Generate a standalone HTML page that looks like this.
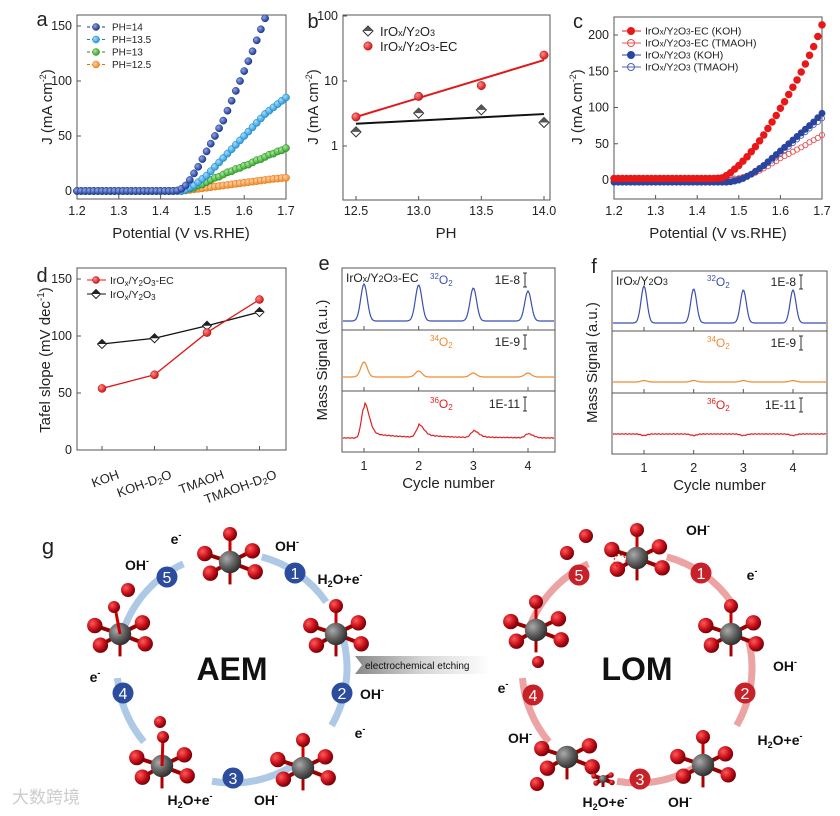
<!DOCTYPE html>
<html><head><meta charset="utf-8"><style>
body{margin:0;background:#fff}
svg{display:block;font-family:"Liberation Sans",Arial,sans-serif}
</style></head><body>
<svg id="fig" width="840" height="816" viewBox="0 0 840 816" xmlns="http://www.w3.org/2000/svg">
<defs>
<radialGradient id="gRed" cx="35%" cy="35%" r="65%"><stop offset="0" stop-color="#ff5a5a"/><stop offset="0.6" stop-color="#c8101a"/><stop offset="1" stop-color="#7a0008"/></radialGradient>
<radialGradient id="gGray" cx="35%" cy="35%" r="65%"><stop offset="0" stop-color="#aaa"/><stop offset="0.6" stop-color="#5e5e5e"/><stop offset="1" stop-color="#333"/></radialGradient>
<radialGradient id="gB" cx="35%" cy="35%" r="65%"><stop offset="0" stop-color="#8fa6e6"/><stop offset="1" stop-color="#1f3a96"/></radialGradient>
<radialGradient id="gR2" cx="35%" cy="35%" r="65%"><stop offset="0" stop-color="#ff8a8a"/><stop offset="1" stop-color="#d11a1a"/></radialGradient>
<radialGradient id="gS" cx="35%" cy="35%" r="65%"><stop offset="0" stop-color="#9fdcff"/><stop offset="1" stop-color="#2f9ad8"/></radialGradient>
<radialGradient id="gG" cx="35%" cy="35%" r="65%"><stop offset="0" stop-color="#a6e89a"/><stop offset="1" stop-color="#35a52a"/></radialGradient>
<radialGradient id="gO" cx="35%" cy="35%" r="65%"><stop offset="0" stop-color="#ffd0a0"/><stop offset="1" stop-color="#f08a2a"/></radialGradient>
<linearGradient id="etch" x1="0" x2="1"><stop offset="0" stop-color="#888"/><stop offset="0.5" stop-color="#d6d6d6"/><stop offset="1" stop-color="#fff"/></linearGradient>
</defs>
<g id="root"></g>
</svg>
<script>
// ---------- DATA ----------
const aPotentials=[1.20,1.21,1.22,1.23,1.24,1.25,1.26,1.27,1.28,1.29,1.30,1.31,1.32,1.33,1.34,1.35,1.36,1.37,1.38,1.39,1.40,1.41,1.42,1.43,1.44,1.45,1.46,1.47,1.48,1.49,1.50,1.51,1.52,1.53,1.54,1.55,1.56,1.57,1.58,1.59,1.60,1.61,1.62,1.63,1.64,1.65,1.66,1.67,1.68,1.69,1.70];
const aPH14=[0,0,0,0,0,0,0,0,0,0,0,0,0,0,0,0,0,0,0,0,0,0,0,0,0.5,2,5,10,16,22,29,36,43,50,57,64,73,82,91,100,109,118,127,137,147,157];
const aPH135=[0,0,0,0,0,0,0,0,0,0,0,0,0,0,0,0,0,0,0,0,0,0,0,0,0,0,1,3,5,8,11,14,18,22,26,30,34,38,42,46,50,54,58,62,66,70,73,76,79,82,85];
const aPH13=[0,0,0,0,0,0,0,0,0,0,0,0,0,0,0,0,0,0,0,0,0,0,0,0,0,0,1,2,3,5,6,8,10,12,13,15,17,18,20,21,23,24,26,28,29,31,33,34,36,37,39];
const aPH125=[0,0,0,0,0,0,0,0,0,0,0,0,0,0,0,0,0,0,0,0,0,0,0,0,0,0,0.5,1,1.5,2,2.5,3,3.5,4,4.5,5,5.5,6,6.5,7,7.5,8,8.5,9,9.5,10,10.5,11,11.3,11.7,12];
const aXTicks=[1.2,1.3,1.4,1.5,1.6,1.7];
const aYTicks=[0,50,100,150];
const bPH=[12.5,13.0,13.5,14.0];
const bPlain=[1.65,3.2,3.6,2.3];
const bEC=[2.8,5.8,8.5,25];
const bPlainFit=[2.2,3.1];
const bECFit=[2.8,21];
const bXTicks=[12.5,13.0,13.5,14.0];
const bYTicks=[1,10,100];
const cECKOH=[2,2,2,2,2,2,2,2,2,2,2,2,2,2,2,2,2,2,2,2,2,2,2,2,2,2.5,3,6,10,15,20,26,32,39,46,54,62,71,80,89,99,108,118,128,138,149,160,172,184,198,214];
const cECTMAOH=[2,2,2,2,2,2,2,2,2,2,2,2,2,2,2,2,2,2,2,2,2,2,2,2,2,2,2,2,2,2,2.5,4,6,8,10,13,16,19,23,26,30,33,36,39,42,45,48,52,55,58,62];
const cKOH=[-3,-3,-3,-3,-3,-3,-3,-3,-3,-3,-3,-3,-3,-3,-3,-3,-3,-3,-3,-3,-3,-3,-3,-3,-3,-3,-3,-3,-2.5,-1.5,0,2,5,8,12,16,20,25,30,35,40,45,50,55,60,65,70,75,80,86,92];
const cTMAOH=[0,0,0,0,0,0,0,0,0,0,0,0,0,0,0,0,0,0,0,0,0,0,0,0,0,0,0,0,0,0.5,1.5,3,5,8,11,15,19,23,27,31,36,41,46,51,56,61,66,71,76,80,85];
const cYTicks=[0,50,100,150,200];
const dCats=["KOH","KOH-D2O","TMAOH","TMAOH-D2O"];
const dEC=[54,66,103,132];
const dPlain=[93,98,109,121];
const dYTicks=[0,50,100,150];
const cycles=[1,2,3,4];
const e32Peaks=[37,36,33,30];
const e34Peaks=[15,6,4,4];
const e36Peaks=[30,10,6,4]; const e36Base=[6,3,1,0];
const f32Peaks=[37,34,33,33];
const f34Peaks=[1.5,1.5,1.5,1.5];
const f36Peaks=[-1.5,-1.5,-1.5,-1.5];
const xTicksCycle=[1,2,3,4];

// ---------- helpers ----------
const NS="http://www.w3.org/2000/svg";
const root=document.getElementById('root');
function mk(tag,attrs,parent,txt){const e=document.createElementNS(NS,tag);for(const k in attrs)e.setAttribute(k,attrs[k]);if(txt!==undefined)e.textContent=txt;(parent||root).appendChild(e);return e;}
function lin(d0,d1,r0,r1){return v=>r0+(v-d0)*(r1-r0)/(d1-d0);}
function grp(name){const g=mk('g',{});return g;}
function txt(p,x,y,s,o){o=o||{};const t=mk('text',{x:x,y:y,'font-size':o.fs||12,'text-anchor':o.a||'middle',fill:o.c||'#222','font-weight':o.fw||'normal'},p);if(o.rot)t.setAttribute('transform','rotate('+o.rot+' '+x+' '+y+')');t.innerHTML=s;return t;}
function box(p,x0,y0,x1,y1){mk('rect',{x:x0,y:y0,width:x1-x0,height:y1-y0,fill:'none',stroke:'#555','stroke-width':1},p);}
function ytitle(p,x,y,s,fs){txt(p,x,y,s,{fs:fs||15,rot:-90});}
function circleMark(p,x,y,grad,stroke,r){mk('circle',{cx:x,cy:y,r:r||3.3,fill:'url(#'+grad+')',stroke:stroke,'stroke-width':0.5},p);}

// ---------- panel a ----------
(function(){
 const g=grp('panel-a');
 const X=lin(1.2,1.7,77,286),Y=lin(0,150,191,26);
 box(g,77,15,286,199);
 txt(g,42,26,'a',{fs:20});
 aXTicks.forEach(v=>{mk('line',{x1:X(v),x2:X(v),y1:199,y2:195,stroke:'#555'},g);txt(g,X(v),215,v.toFixed(1),{fs:12.5});});
 aYTicks.forEach(v=>{mk('line',{x1:77,x2:81,y1:Y(v),y2:Y(v),stroke:'#555'},g);txt(g,72,Y(v)+4,v,{fs:12.5,a:'end'});});
 txt(g,181,238,'Potential (V vs.RHE)',{fs:15});
 ytitle(g,52,107,'J (mA cm<tspan font-size="9" dy="-6">-2</tspan><tspan dy="6">)</tspan>');
 const series=[[aPH125,'gO','#e07010','PH=12.5'],[aPH13,'gG','#2a8a20','PH=13'],[aPH135,'gS','#1c80c0','PH=13.5'],[aPH14,'gB','#1f3590','PH=14']];
 series.forEach(s=>{const sg=grp('series-'+s[3].toLowerCase().replace('=','-').replace('.','-'));g.appendChild(sg);
  s[0].forEach((v,i)=>{const y=Y(v);if(y<17)return;circleMark(sg,X(aPotentials[i]),y,s[1],s[2],3.6);});});
 const leg=[['PH=14','gB','#1f3590'],['PH=13.5','gS','#1c80c0'],['PH=13','gG','#2a8a20'],['PH=12.5','gO','#e07010']];
 leg.forEach((l,i)=>{const y=27+i*12.5;const lg=grp('legend-entry');g.appendChild(lg);
  mk('line',{x1:87,x2:106,y1:y,y2:y,stroke:l[2],'stroke-dasharray':'3 2'},lg);circleMark(lg,96,y,l[1],l[2],3.5);txt(lg,112,y+3.5,l[0],{fs:10,a:'start'});});
})();

// ---------- panel b ----------
(function(){
 const g=grp('panel-b');
 const X=lin(12.5,14.0,356,544);
 const Y=v=>146-65*Math.log10(v);
 box(g,343,15,550,200);
 txt(g,313,28,'b',{fs:20});
 bXTicks.forEach(v=>{mk('line',{x1:X(v),x2:X(v),y1:200,y2:196,stroke:'#555'},g);txt(g,X(v),215,v.toFixed(1),{fs:12.5});});
 bYTicks.forEach(v=>{mk('line',{x1:343,x2:347,y1:Y(v),y2:Y(v),stroke:'#555'},g);txt(g,338,Y(v)+4,v,{fs:12.5,a:'end'});});
 txt(g,446,238,'PH',{fs:15});
 ytitle(g,318,107,'J (mA cm<tspan font-size="9" dy="-6">-2</tspan><tspan dy="6">)</tspan>');
 mk('line',{x1:X(12.5),x2:X(14),y1:Y(bPlainFit[0]),y2:Y(bPlainFit[1]),stroke:'#111','stroke-width':2},g);
 mk('line',{x1:X(12.5),x2:X(14),y1:Y(bECFit[0]),y2:Y(bECFit[1]),stroke:'#e01818','stroke-width':2},g);
 function diamond(p,x,y){mk('path',{d:`M${x} ${y-5}L${x+5} ${y}L${x} ${y+5}L${x-5} ${y}Z`,fill:'#fff',stroke:'#333'},p);mk('path',{d:`M${x-5} ${y}L${x} ${y-5}L${x+5} ${y}Z`,fill:'#555'},p);}
 bPH.forEach((p,i)=>{diamond(g,X(p),Y(bPlain[i]));circleMark(g,X(p),Y(bEC[i]),'gR2','#b00',4.2);});
 const l1=grp('legend-entry');g.appendChild(l1);diamond(l1,368,31);txt(l1,380,36,'IrO<tspan font-size="9">x</tspan>/Y<tspan font-size="9">2</tspan>O<tspan font-size="9">3</tspan>',{fs:13,a:'start'});
 const l2=grp('legend-entry');g.appendChild(l2);circleMark(l2,368,46,'gR2','#b00',4.2);txt(l2,380,51,'IrO<tspan font-size="9">x</tspan>/Y<tspan font-size="9">2</tspan>O<tspan font-size="9">3</tspan>-EC',{fs:13,a:'start'});
})();

// ---------- panel c ----------
(function(){
 const g=grp('panel-c');
 const X=lin(1.2,1.7,614,822),Y=lin(0,200,180,35);
 box(g,614,17,822,199);
 txt(g,578,28,'c',{fs:20});
 aXTicks.forEach(v=>{mk('line',{x1:X(v),x2:X(v),y1:199,y2:195,stroke:'#555'},g);txt(g,X(v),215,v.toFixed(1),{fs:12.5});});
 cYTicks.forEach(v=>{mk('line',{x1:614,x2:618,y1:Y(v),y2:Y(v),stroke:'#555'},g);txt(g,609,Y(v)+4,v,{fs:12.5,a:'end'});});
 txt(g,718,238,'Potential (V vs.RHE)',{fs:15});
 ytitle(g,582,107,'J (mA cm<tspan font-size="9" dy="-6">-2</tspan><tspan dy="6">)</tspan>');
 const drawS=(arr,fill,stroke,r,name)=>{const sg=grp(name);g.appendChild(sg);
  arr.forEach((v,i)=>{const x=X(aPotentials[i]),y=Y(v);mk('circle',{cx:x,cy:y,r:r,fill:fill,stroke:stroke,'stroke-width':0.9},sg);});};
 drawS(cTMAOH,'none','#5060b8',2.6,'series-plain-tmaoh');
 drawS(cECTMAOH,'none','#e85050',2.6,'series-ec-tmaoh');
 drawS(cKOH,'#2a45a0','#2a45a0',3,'series-plain-koh');
 drawS(cECKOH,'#e81818','#e81818',3.3,'series-ec-koh');
 const leg=[['IrO<tspan font-size="8">x</tspan>/Y<tspan font-size="8">2</tspan>O<tspan font-size="8">3</tspan>-EC (KOH)','#e81818','#e81818'],
  ['IrO<tspan font-size="8">x</tspan>/Y<tspan font-size="8">2</tspan>O<tspan font-size="8">3</tspan>-EC (TMAOH)','none','#e85050'],
  ['IrO<tspan font-size="8">x</tspan>/Y<tspan font-size="8">2</tspan>O<tspan font-size="8">3</tspan>      (KOH)','#2a45a0','#2a45a0'],
  ['IrO<tspan font-size="8">x</tspan>/Y<tspan font-size="8">2</tspan>O<tspan font-size="8">3</tspan>      (TMAOH)','none','#5060b8']];
 leg.forEach((l,i)=>{const y=31+i*12;const lg=grp('legend-entry');g.appendChild(lg);
  mk('line',{x1:622,x2:641,y1:y,y2:y,stroke:l[2]},lg);mk('circle',{cx:631,cy:y,r:3.5,fill:l[1],stroke:l[2]},lg);txt(lg,645,y+3.5,l[0],{fs:10.5,a:'start'});});
})();

// ---------- panel d ----------
(function(){
 const g=grp('panel-d');
 const X=i=>102+i*52.5,Y=lin(0,150,450,279);
 box(g,77,268,286,450);
 txt(g,42,282,'d',{fs:20});
 dYTicks.forEach(v=>{mk('line',{x1:77,x2:81,y1:Y(v),y2:Y(v),stroke:'#555'},g);txt(g,72,Y(v)+4,v,{fs:12.5,a:'end'});});
 dCats.forEach((c,i)=>{mk('line',{x1:X(i),x2:X(i),y1:450,y2:446,stroke:'#555'},g);
  txt(g,X(i)+18,478,c.replace('D2O','D<tspan font-size="9" dy="2">2</tspan><tspan dy="-2">O</tspan>'),{fs:13,a:'end',rot:-20});});
 ytitle(g,50,360,'Tafel slope (mV dec<tspan font-size="10" dy="-6">-1</tspan><tspan dy="6">)</tspan>');
 const pts=a=>a.map((v,i)=>X(i)+','+Y(v)).join(' ');
 mk('polyline',{points:pts(dPlain),fill:'none',stroke:'#111','stroke-width':1.3},g);
 mk('polyline',{points:pts(dEC),fill:'none',stroke:'#e01818','stroke-width':1.3},g);
 function dia(p,x,y){mk('path',{d:`M${x} ${y-4.5}L${x+4.5} ${y}L${x} ${y+4.5}L${x-4.5} ${y}Z`,fill:'#fff',stroke:'#222'},p);mk('path',{d:`M${x-4.5} ${y}L${x} ${y-4.5}L${x+4.5} ${y}Z`,fill:'#222'},p);}
 dPlain.forEach((v,i)=>dia(g,X(i),Y(v)));
 dEC.forEach((v,i)=>circleMark(g,X(i),Y(v),'gR2','#b00',4));
 const l1=grp('legend-entry');g.appendChild(l1);mk('line',{x1:87,x2:106,y1:280,y2:280,stroke:'#e01818'},l1);circleMark(l1,96,280,'gR2','#b00',3.5);
 txt(l1,110,284,'IrO<tspan font-size="8" dy="2">x</tspan><tspan dy="-2">/Y</tspan><tspan font-size="8" dy="2">2</tspan><tspan dy="-2">O</tspan><tspan font-size="8" dy="2">3</tspan><tspan dy="-2">-EC</tspan>',{fs:10.5,a:'start'});
 const l2=grp('legend-entry');g.appendChild(l2);mk('line',{x1:87,x2:106,y1:294,y2:294,stroke:'#111'},l2);dia(l2,96,294);
 txt(l2,110,298,'IrO<tspan font-size="8" dy="2">x</tspan><tspan dy="-2">/Y</tspan><tspan font-size="8" dy="2">2</tspan><tspan dy="-2">O</tspan><tspan font-size="8" dy="2">3</tspan>',{fs:10.5,a:'start'});
})();

// ---------- panels e,f ----------
function massPanel(name,letter,x0,x1,y0,d1,d2,y1,X,sets,label){
 const g=grp(name);
 box(g,x0,y0,x1,y1);
 mk('line',{x1:x0,x2:x1,y1:d1,y2:d1,stroke:'#555'},g);mk('line',{x1:x0,x2:x1,y1:d2,y2:d2,stroke:'#555'},g);
 txt(g,x0-18,y0+2,letter,{fs:20});
 xTicksCycle.forEach(c=>{[d1,d2,y1].forEach(yy=>mk('line',{x1:X(c),x2:X(c),y1:yy,y2:yy-4,stroke:'#555'},g));txt(g,X(c),y1+18,c,{fs:12.5});});
 txt(g,(x0+x1)/2,y1+36,'Cycle number',{fs:15});
 ytitle(g,x0-15,(y0+y1)/2,'Mass Signal (a.u.)',15);
 txt(g,x0+4,y0+14,label,{fs:12,a:'start'});
 sets.forEach(s=>{
  const sg=grp(s.name);g.appendChild(sg);
  let d='';
  for(let x=x0+1;x<=x1-1;x+=1){
   const c=(x-X(0))/(X(1)-X(0));
   let v=0;
   cycles.forEach((cy,i)=>{const dx=c-cy;
    const w=s.tail?(dx>0?0.09:0.05):0.06;
    v+=s.peaks[i]*Math.exp(-dx*dx/(2*w*w));
    if(s.base&&dx>0)v+=s.base[i]*Math.exp(-dx/0.5);});
   if(s.noise)v+=Math.sin(x*1.7)*0.35;
   d+=(d?'L':'M')+x+' '+(s.y0-v).toFixed(1);
  }
  mk('path',{d:d,fill:'none',stroke:s.color,'stroke-width':1.2},sg);
  txt(sg,s.lx,s.ty,'<tspan font-size="8" dy="-5">'+s.iso+'</tspan><tspan dy="5">O</tspan><tspan font-size="8" dy="2">2</tspan>',{fs:12,c:s.color,a:'start'});
  txt(sg,s.sx,s.ty,s.scale,{fs:12,a:'end'});
  mk('path',{d:`M${s.sx+3} ${s.ty-11}h4M${s.sx+5} ${s.ty-11}v14M${s.sx+3} ${s.ty+3}h4`,stroke:'#333',fill:'none'},sg);
 });
}
(function(){
 const X=lin(1,4,364,528);
 massPanel('panel-e','e',342,555,268,330,391,452,X,[
  {name:'trace-e-32o2',peaks:e32Peaks,y0:321,color:'#3a4fb0',iso:'32',lx:430,ty:284,scale:'1E-8',sx:520},
  {name:'trace-e-34o2',peaks:e34Peaks,y0:377,color:'#f08a30',iso:'34',lx:430,ty:346,scale:'1E-9',sx:520},
  {name:'trace-e-36o2',peaks:e36Peaks,base:e36Base,tail:true,noise:true,y0:438,color:'#e02020',iso:'36',lx:430,ty:408,scale:'1E-11',sx:520}
 ],'IrO<tspan font-size="9">x</tspan>/Y<tspan font-size="9">2</tspan>O<tspan font-size="9">3</tspan>-EC');
 const X2=lin(1,4,644,793);
 massPanel('panel-f','f',612,827,271,331,393,454,X2,[
  {name:'trace-f-32o2',peaks:f32Peaks,y0:323,color:'#3a4fb0',iso:'32',lx:707,ty:286,scale:'1E-8',sx:796},
  {name:'trace-f-34o2',peaks:f34Peaks,y0:382,color:'#f08a30',iso:'34',lx:707,ty:347,scale:'1E-9',sx:796},
  {name:'trace-f-36o2',peaks:f36Peaks,noise:true,y0:434,color:'#e02020',iso:'36',lx:707,ty:409,scale:'1E-11',sx:796}
 ],'IrO<tspan font-size="9">x</tspan>/Y<tspan font-size="9">2</tspan>O<tspan font-size="9">3</tspan>');
})();

// ---------- panel g ----------
(function(){
 const g=grp('panel-g');
 txt(g,48,554,'g',{fs:22});
 function mol(cx,cy,top,s){const m=grp('molecule');g.appendChild(m);s=s||1.4;
  const arms=[[-18,-6],[16,-8],[-14,8],[18,7]];
  mk('line',{x1:cx,y1:cy,x2:cx,y2:cy+16*s,stroke:'#a00','stroke-width':3},m);
  arms.forEach(a=>mk('line',{x1:cx,y1:cy,x2:cx+a[0]*s,y2:cy+a[1]*s,stroke:'#900','stroke-width':4},m));
  if(top){mk('line',{x1:cx,y1:cy,x2:cx,y2:cy-20*s,stroke:'#c00','stroke-width':3},m);mk('circle',{cx:cx,cy:cy-20*s,r:5*s,fill:'url(#gRed)'},m);}
  arms.forEach(a=>mk('circle',{cx:cx+a[0]*s,cy:cy+a[1]*s,r:5.5*s,fill:'url(#gRed)'},m));
  mk('circle',{cx:cx,cy:cy,r:8*s,fill:'url(#gGray)'},m);}
 function num(x,y,n,col){const c=grp('step-'+n+'-marker');g.appendChild(c);mk('circle',{cx:x,cy:y,r:10.5,fill:col},c);txt(c,x,y+6,n,{fs:16,c:'#fff'});}
 function arc(x,y,col,r,a0,a1){const p=(a)=>[x+r*Math.cos(a*Math.PI/180),y+r*Math.sin(a*Math.PI/180)];const s=p(a0),e=p(a1);
  mk('path',{d:`M${s[0]} ${s[1]}A${r} ${r} 0 0 1 ${e[0]} ${e[1]}`,fill:'none',stroke:col,'stroke-width':7,'stroke-linecap':'butt'},g);}
 const blue='#adc9e6',bc='#2c4c9e';
 arc(232,668,blue,115,-75,-35);arc(232,668,blue,115,-15,30);arc(232,668,blue,115,55,100);arc(232,668,blue,115,140,175);arc(232,668,blue,115,200,245);
 [[230,562,1],[336,634,1],[303,768,1],[162,766,0],[120,634,0]].forEach(m=>mol(m[0],m[1],m[2]));
 mk('line',{x1:162,y1:766,x2:163,y2:737,stroke:'#c00','stroke-width':3},g);
 mk('circle',{cx:163,cy:737,r:6,fill:'url(#gRed)'},g);mk('circle',{cx:160,cy:722,r:6,fill:'url(#gRed)'},g);
 mk('line',{x1:120,y1:634,x2:115,y2:607,stroke:'#c00','stroke-width':3},g);
 mk('circle',{cx:128,cy:590,r:7,fill:'url(#gRed)'},g);mk('circle',{cx:114,cy:607,r:6,fill:'url(#gRed)'},g);
 [[295,573],[342,693],[233,778],[123,693],[167,577]].forEach((p,i)=>num(p[0],p[1],i+1,bc));
 txt(g,232,680,'AEM',{fs:32,fw:'bold',c:'#111'});
 const lab=(x,y,s)=>txt(g,x,y,s,{fs:14,fw:'bold',c:'#111'});
 lab(287,551,'OH<tspan font-size="9" dy="-6">-</tspan>');lab(340,584,'H<tspan font-size="9" dy="3">2</tspan><tspan dy="-3">O+e</tspan><tspan font-size="9" dy="-6">-</tspan>');
 lab(372,699,'OH<tspan font-size="9" dy="-6">-</tspan>');lab(360,738,'e<tspan font-size="9" dy="-6">-</tspan>');
 lab(190,805,'H<tspan font-size="9" dy="3">2</tspan><tspan dy="-3">O+e</tspan><tspan font-size="9" dy="-6">-</tspan>');lab(266,805,'OH<tspan font-size="9" dy="-6">-</tspan>');
 lab(95,682,'e<tspan font-size="9" dy="-6">-</tspan>');lab(137,570,'OH<tspan font-size="9" dy="-6">-</tspan>');lab(176,544,'e<tspan font-size="9" dy="-6">-</tspan>');
 const et=grp('etching-arrow');g.appendChild(et);
 mk('path',{d:'M355 656H490V674H355L362 665Z',fill:'url(#etch)'},et);
 txt(et,365,669,'electrochemical etching',{fs:10,a:'start',c:'#111'});
 const pink='#eba3a3',rc='#c7222a';
 arc(637,668,pink,115,-75,-35);arc(637,668,pink,115,-15,30);arc(637,668,pink,115,55,100);arc(637,668,pink,115,140,175);arc(637,668,pink,115,200,245);
 [[637,558,1],[731,634,1],[703,765,1],[567,757,0],[536,630,1]].forEach(m=>mol(m[0],m[1],m[2]));
 mk('circle',{cx:586,cy:536,r:7,fill:'url(#gRed)'},g);mk('circle',{cx:567,cy:553,r:7,fill:'url(#gRed)'},g);
 mk('circle',{cx:620,cy:561,r:6,fill:'none',stroke:'#d00','stroke-dasharray':'2 2'},g);
 mk('circle',{cx:538,cy:662,r:6,fill:'url(#gRed)'},g);mk('circle',{cx:537,cy:784,r:7,fill:'url(#gRed)'},g);
 mol(603,779,0,0.5);
 [[701,573],[745,693],[640,779],[533,695],[579,575]].forEach((p,i)=>num(p[0],p[1],i+1,rc));
 txt(g,637,680,'LOM',{fs:32,fw:'bold',c:'#111'});
 lab(698,535,'OH<tspan font-size="9" dy="-6">-</tspan>');lab(752,580,'e<tspan font-size="9" dy="-6">-</tspan>');
 lab(785,671,'OH<tspan font-size="9" dy="-6">-</tspan>');lab(780,745,'H<tspan font-size="9" dy="3">2</tspan><tspan dy="-3">O+e</tspan><tspan font-size="9" dy="-6">-</tspan>');
 lab(605,807,'H<tspan font-size="9" dy="3">2</tspan><tspan dy="-3">O+e</tspan><tspan font-size="9" dy="-6">-</tspan>');lab(680,807,'OH<tspan font-size="9" dy="-6">-</tspan>');
 lab(503,693,'e<tspan font-size="9" dy="-6">-</tspan>');lab(520,743,'OH<tspan font-size="9" dy="-6">-</tspan>');
 txt(g,12,803,'大数跨境',{fs:17,a:'start',c:'#ccc'}).setAttribute('font-family','"Liberation Sans","Noto Sans CJK SC",sans-serif');
})();
</script>
</body></html>
